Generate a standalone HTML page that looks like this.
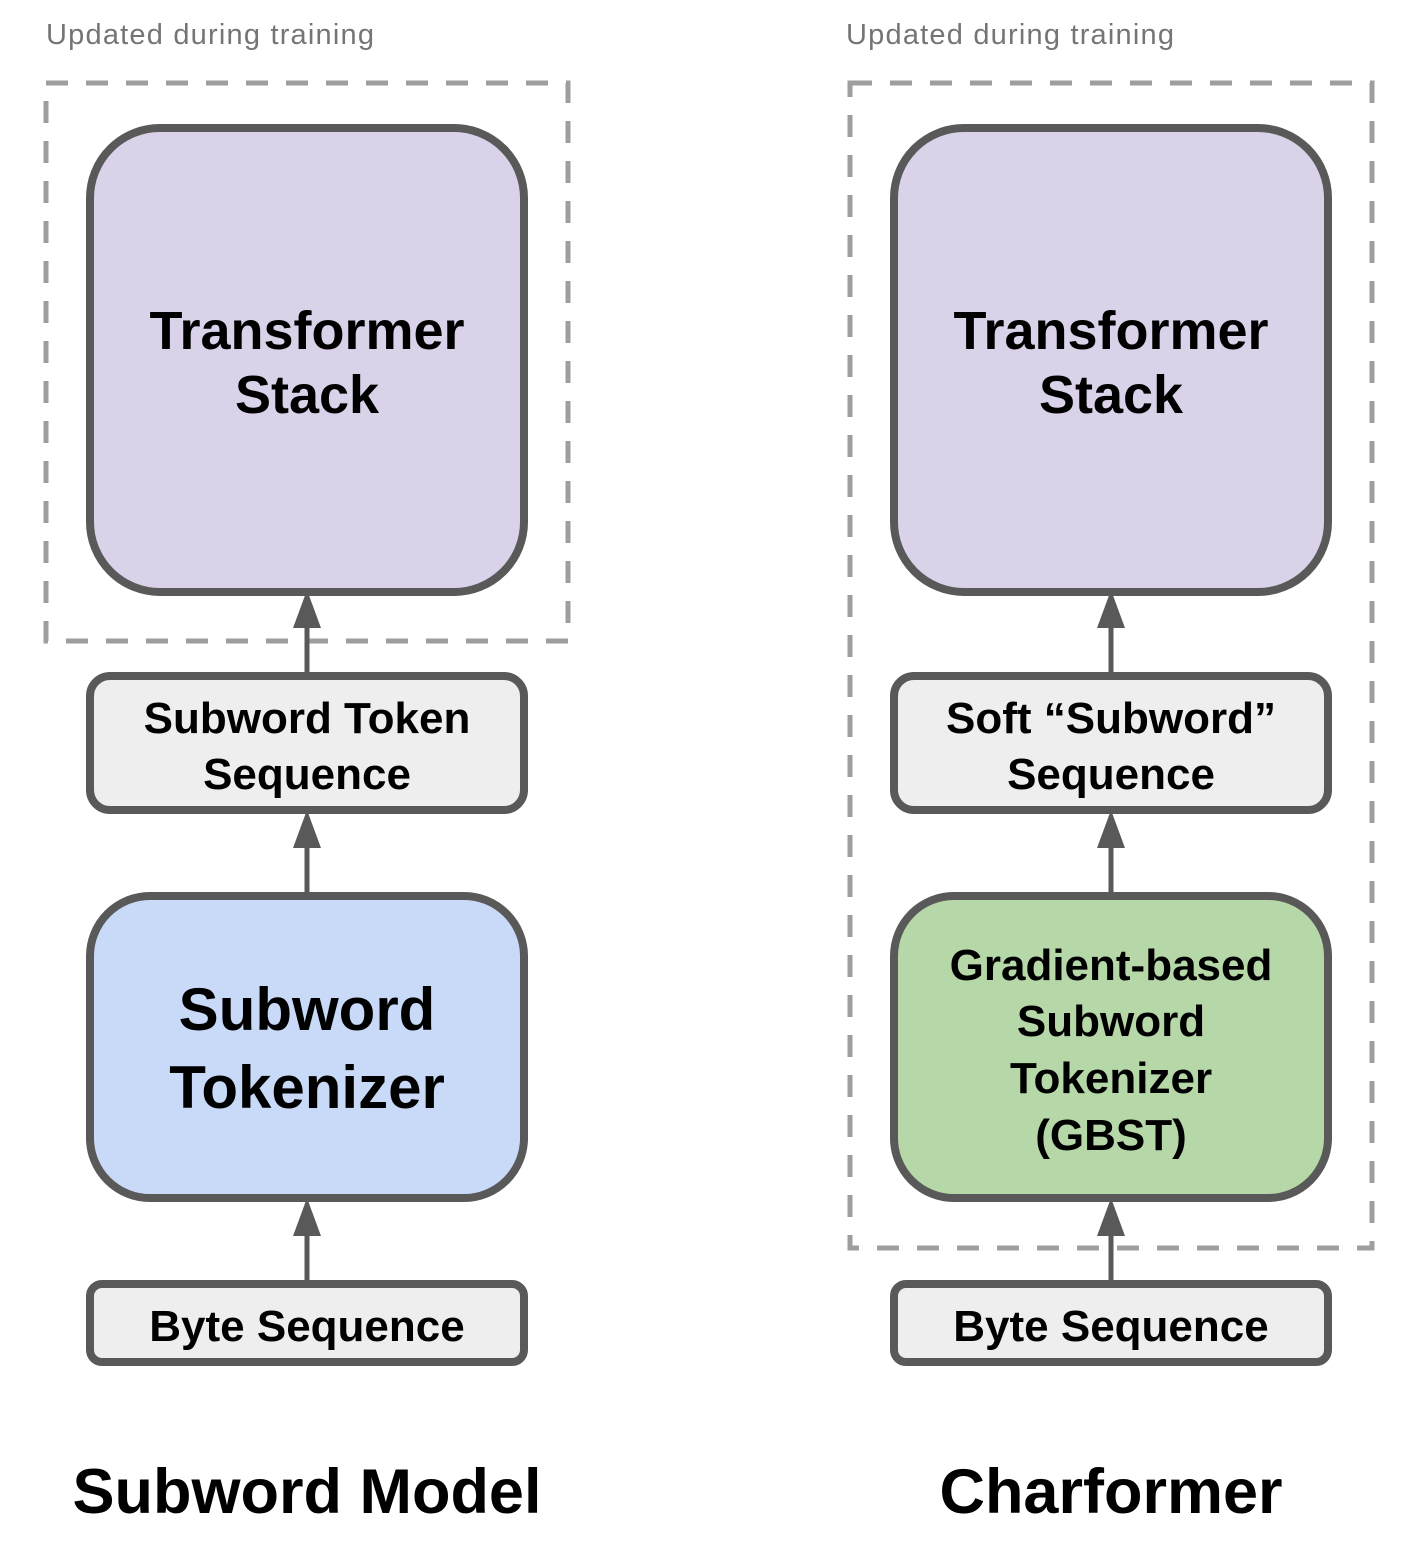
<!DOCTYPE html>
<html><head><style>body{margin:0;background:#fff}</style></head><body>
<svg width="1428" height="1540" viewBox="0 0 1428 1540" xmlns="http://www.w3.org/2000/svg" font-family="Liberation Sans, sans-serif">
<defs>
<g id="arrow"><line x1="0" y1="0" x2="0" y2="-50" stroke="#595959" stroke-width="5"/><polygon points="-14,-48 14,-48 0,-86" fill="#595959"/></g>
</defs>
<g fill="none" stroke="#9e9e9e" stroke-width="5" stroke-dasharray="22,18">
<rect x="46" y="83" width="522" height="558"/>
<rect x="850" y="83" width="522" height="1165"/>
</g>
<text x="46" y="44" font-size="29" fill="#757575" textLength="328">Updated during training</text>
<text x="846" y="44" font-size="29" fill="#757575" textLength="328">Updated during training</text>
<g stroke="#595959" stroke-width="8">
<rect x="90" y="128" width="434" height="464" rx="70" fill="#d9d2e9"/>
<rect x="90" y="676" width="434" height="134" rx="20" fill="#eeeeee"/>
<rect x="90" y="896" width="434" height="302" rx="60" fill="#c9daf8"/>
<rect x="90" y="1284" width="434" height="78" rx="12" fill="#eeeeee"/>
<rect x="894" y="128" width="434" height="464" rx="70" fill="#d9d2e9"/>
<rect x="894" y="676" width="434" height="134" rx="20" fill="#eeeeee"/>
<rect x="894" y="896" width="434" height="302" rx="60" fill="#b6d7a8"/>
<rect x="894" y="1284" width="434" height="78" rx="12" fill="#eeeeee"/>
</g>
<use href="#arrow" x="307" y="676"/><use href="#arrow" x="307" y="896"/><use href="#arrow" x="307" y="1284"/>
<use href="#arrow" x="1111" y="676"/><use href="#arrow" x="1111" y="896"/><use href="#arrow" x="1111" y="1284"/>
<g font-weight="bold" text-anchor="middle" fill="#000">
<text x="307" y="349" font-size="54">Transformer</text><text x="307" y="413" font-size="54">Stack</text>
<text x="1111" y="349" font-size="54">Transformer</text><text x="1111" y="413" font-size="54">Stack</text>
<text x="307" y="733" font-size="44">Subword Token</text><text x="307" y="789" font-size="44">Sequence</text>
<text x="1111" y="733" font-size="44">Soft “Subword”</text><text x="1111" y="789" font-size="44">Sequence</text>
<text x="307" y="1030" font-size="60">Subword</text><text x="307" y="1108" font-size="60">Tokenizer</text>
<text x="1111" y="980" font-size="44">Gradient-based</text><text x="1111" y="1036" font-size="44">Subword</text><text x="1111" y="1093" font-size="44">Tokenizer</text><text x="1111" y="1150" font-size="44">(GBST)</text>
<text x="307" y="1341" font-size="44">Byte Sequence</text><text x="1111" y="1341" font-size="44">Byte Sequence</text>
<text x="307" y="1513" font-size="63">Subword Model</text><text x="1111" y="1513" font-size="63">Charformer</text>
</g>
</svg>
</body></html>
